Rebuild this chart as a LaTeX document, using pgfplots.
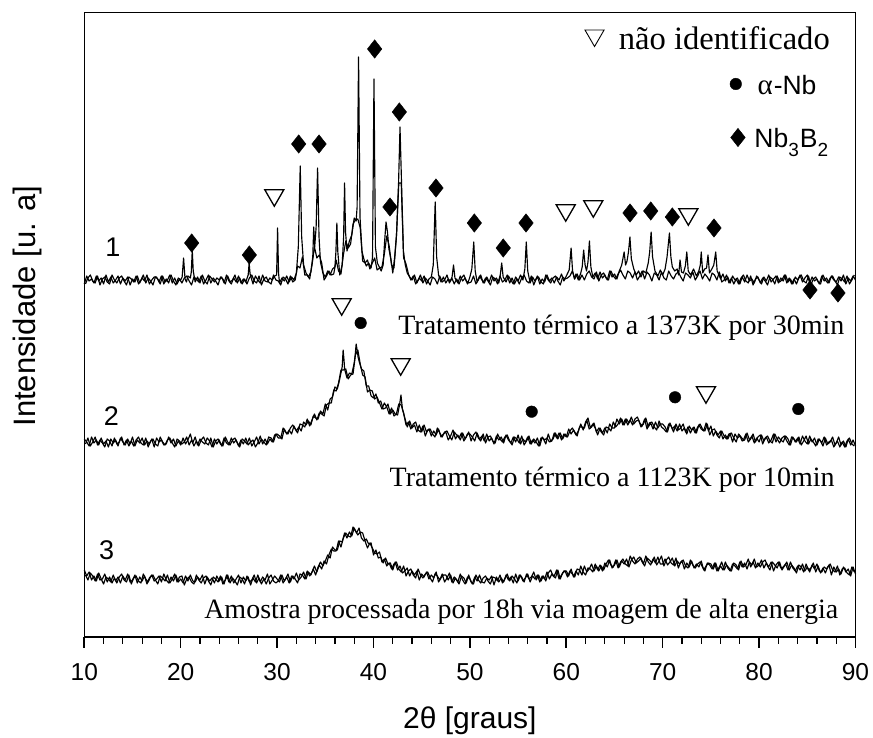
\documentclass[border=0pt]{standalone}
\usepackage{fontspec}
\setmainfont{Liberation Serif}
\setsansfont{Liberation Sans}
\usepackage{graphicx}
\usepackage{pgfplots}
\pgfplotsset{compat=1.18}

\pgfplotstableread{
x y
10 353
10.25 361
10.5 356
10.75 358
11 354
11.25 361
11.5 356
11.75 359
12 353
12.25 362
12.5 355
12.75 360
13 354
13.25 357
13.5 361
13.75 353
14 359
14.25 356
14.5 360
14.75 352
15 358
15.25 355
15.5 361
15.75 354
16 359
16.25 356
16.5 362
16.75 353
17 357
17.25 360
17.5 360
17.75 355
18 361
18.25 353
18.5 358
18.75 354
19 362
19.25 356
19.5 352
19.75 359
20 357
20.15 360
20.3 379
20.45 358
20.6 355
20.75 361
21.0 359
21.1 365
21.2 387
21.3 366
21.5 355
21.75 360
22 354
22.25 362
22.5 356
22.75 353
23 361
23.25 358
23.5 355
23.75 359
24 357
24.25 360
24.5 354
24.75 362
25 356
25.25 353
25.5 359
25.75 355
26 361
26.25 354
26.5 358
26.75 355
27.0 362
27.1 374
27.2 363
27.5 353
27.75 361
28 357
28.25 354
28.5 362
28.75 356
29 355
29.25 359
29.5 357
29.75 361
29.95 362
30.05 409
30.15 364
30.25 354
30.5 359
30.75 356
31 361
31.25 355
31.5 360
31.75 357
32.0 364
32.2 390
32.4 471
32.55 400
32.75 372
33.0 364
33.25 360
33.5 365
33.7 380
33.8 410
33.9 390
34.05 410
34.2 469
34.35 400
34.5 375
34.75 364
35.0 360
35.25 366
35.5 362
35.75 368
36.0 370
36.1 385
36.2 414
36.3 385
36.5 362
36.75 372
36.9 400
37.0 454
37.1 405
37.25 386
37.5 396
37.75 402
38.0 419
38.2 416
38.3 430
38.45 580
38.6 420
38.8 386
39.0 378
39.25 371
39.5 374
39.75 369
39.9 380
40.05 558
40.2 390
40.4 374
40.6 370
40.8 366
41.0 372
41.15 395
41.3 415
41.45 405
41.6 388
41.8 378
42.0 364
42.2 380
42.4 404
42.6 454
42.75 510
42.9 457
43.1 386
43.3 372
43.5 364
43.75 360
44 357
44.25 362
44.5 354
44.75 359
45 356
45.25 361
45.5 353
45.75 358
46.0 360
46.2 372
46.4 435
46.55 380
46.75 362
47 355
47.25 360
47.5 354
47.75 358
48.0 356
48.15 360
48.3 372
48.45 359
48.75 354
49 361
49.25 356
49.5 359
49.75 353
50.0 360
50.2 368
50.4 395
50.55 366
50.75 355
51 361
51.25 357
51.5 354
51.75 360
52 355
52.25 362
52.5 356
52.75 359
53.0 354
53.15 362
53.3 374
53.45 360
53.75 355
54 361
54.25 357
54.5 353
54.75 360
55 356
55.25 362
55.5 357
55.7 368
55.85 395
56.0 366
56.25 354
56.5 360
56.75 356
57 361
57.25 353
57.5 358
57.75 355
58 362
58.25 356
58.5 359
58.75 354
59 360
59.25 357
59.5 363
59.75 356
60.0 361
60.3 367
60.5 389
60.65 366
60.85 358
61.0 363
61.25 357
61.5 364
61.65 370
61.8 387
61.95 372
62.1 366
62.25 375
62.4 396
62.55 370
62.75 360
63 364
63.25 358
63.5 365
63.75 359
64 362
64.25 357
64.5 366
64.75 360
65 363
65.25 358
65.5 366
65.75 372
66.0 385
66.15 372
66.3 376
66.45 385
66.6 400
66.75 378
67.0 368
67.25 362
67.5 366
67.75 360
68.0 366
68.25 364
68.5 374
68.65 385
68.8 405
68.95 380
69.2 366
69.5 361
69.75 367
70.0 362
70.25 368
70.45 380
70.7 404
70.85 380
71.0 370
71.25 366
71.5 368
71.65 362
71.8 377
71.95 365
72.15 364
72.35 371
72.5 385
72.65 366
72.9 362
73.2 368
73.5 361
73.75 366
73.9 372
74.0 385
74.15 364
74.35 368
74.55 369
74.7 382
74.85 364
75.1 368
75.3 372
75.5 385
75.65 366
75.85 362
76 358
76.25 363
76.5 356
76.75 360
77 354
77.25 361
77.5 357
77.75 359
78 353
78.25 360
78.5 355
78.75 362
79 356
79.25 358
79.5 354
79.75 361
80 357
80.25 353
80.5 360
80.75 356
81 362
81.25 355
81.5 358
81.75 361
82 354
82.25 359
82.5 356
82.75 362
83 355
83.25 358
83.5 353
83.75 360
84 357
84.25 362
84.5 355
84.75 359
85 362
85.25 354
85.5 360
85.75 356
86 358
86.25 353
86.5 361
86.75 356
87 359
87.25 354
87.5 361
87.75 357
88 355
88.25 360
88.5 356
88.75 362
89 353
89.25 359
89.5 356
89.75 361
90 357
}\curveA

\pgfplotstableread{
x y
10.125 353
10.375 359
10.625 362
10.875 356
11.125 354
11.375 361
11.625 352
11.875 358
12.125 360
12.375 355
12.625 353
12.875 362
13.125 357
13.375 354
13.625 359
13.875 361
14.125 356
14.375 352
14.625 360
14.875 358
15.125 355
15.375 361
15.625 353
15.875 357
16.125 362
16.375 354
16.625 359
16.875 356
17.125 352
17.375 360
17.625 358
17.875 353
18.125 361
18.375 355
18.625 357
18.875 362
19.125 354
19.375 359
19.625 353
19.875 358
20.125 354
20.375 359
20.625 361
20.875 356
21.125 352
21.375 360
21.625 358
21.875 355
22.125 361
22.375 353
22.625 357
22.875 362
23.125 354
23.375 359
23.625 356
23.875 352
24.125 360
24.375 358
24.625 353
24.875 361
25.125 355
25.375 357
25.625 362
25.875 354
26.125 359
26.375 353
26.625 358
26.875 353
27.125 359
27.375 362
27.625 356
27.875 354
28.125 361
28.375 352
28.625 358
28.875 360
29.125 355
29.375 353
29.625 362
29.875 357
30.125 356
30.375 352
30.625 360
30.875 358
31.125 353
31.375 361
31.625 355
31.875 357
32.125 371
32.375 369
32.625 380
32.875 362
33.125 362
33.375 358
33.625 372
33.875 390
34.125 379
34.375 382
34.625 374
34.875 357
35.125 361
35.375 366
35.625 362
35.875 363
36.125 377
36.375 366
36.625 363
36.875 382
37.125 396
37.375 389
37.625 393
37.875 413
38.125 417
38.375 418
38.625 409
38.875 376
39.125 374
39.375 377
39.625 368
39.875 374
40.125 379
40.375 367
40.625 369
40.875 370
41.125 383
41.375 401
41.625 391
41.875 372
42.125 369
42.375 400
42.625 454
42.875 454
43.125 379
43.375 373
43.625 363
43.875 357
44.125 361
44.375 353
44.625 357
44.875 362
45.125 354
45.375 359
45.625 356
45.875 352
46.125 360
46.375 358
46.625 353
46.875 361
47.125 355
47.375 357
47.625 362
47.875 354
48.125 359
48.375 353
48.625 358
48.875 353
49.125 359
49.375 362
49.625 356
49.875 354
50.125 355
50.375 361
50.625 353
50.875 357
51.125 362
51.375 354
51.625 359
51.875 356
52.125 352
52.375 360
52.625 358
52.875 353
53.125 361
53.375 355
53.625 357
53.875 362
54.125 354
54.375 359
54.625 353
54.875 358
55.125 353
55.375 359
55.625 362
55.875 356
56.125 354
56.375 361
56.625 352
56.875 358
57.125 360
57.375 355
57.625 353
57.875 362
58.125 357
58.375 354
58.625 359
58.875 361
59.125 356
59.375 352
59.625 360
59.875 358
60.125 359
60.375 361
60.625 366
60.875 358
61.125 363
61.375 357
61.625 362
61.875 357
62.125 363
62.375 366
62.625 360
62.875 358
63.125 365
63.375 356
63.625 362
63.875 364
64.125 359
64.375 357
64.625 366
64.875 361
65.125 358
65.375 363
65.625 367
65.875 362
66.125 358
66.375 366
66.625 364
66.875 359
67.125 365
67.375 357
67.625 361
67.875 366
68.125 358
68.375 365
68.625 362
68.875 356
69.125 364
69.375 362
69.625 357
69.875 365
70.125 359
70.375 357
70.625 366
70.875 361
71.125 358
71.375 363
71.625 365
71.875 360
72.125 356
72.375 364
72.625 362
72.875 359
73.125 365
73.375 357
73.625 361
73.875 366
74.125 358
74.375 363
74.625 360
74.875 356
75.125 364
75.375 362
75.625 357
75.875 365
76.125 355
76.375 357
76.625 362
76.875 354
77.125 359
77.375 353
77.625 358
77.875 353
78.125 359
78.375 362
78.625 356
78.875 354
79.125 361
79.375 352
79.625 358
79.875 360
80.125 354
80.375 359
80.625 356
80.875 352
81.125 360
81.375 358
81.625 353
81.875 361
82.125 355
82.375 357
82.625 362
82.875 354
83.125 359
83.375 353
83.625 358
83.875 353
84.125 359
84.375 362
84.625 356
84.875 354
85.125 361
85.375 352
85.625 358
85.875 360
86.125 355
86.375 353
86.625 362
86.875 357
87.125 354
87.375 359
87.625 361
87.875 356
88.125 352
88.375 360
88.625 358
88.875 355
89.125 361
89.375 353
89.625 357
89.875 362
}\curveAm

\pgfplotstableread{
x y
10 198
10.25 195
10.5 191
10.75 200
11 194
11.25 197
11.5 192
11.75 199
12 193
12.25 196
12.5 190
12.75 198
13 194
13.25 197
13.5 191
13.75 199
14 195
14.25 192
14.5 198
14.75 193
15 200
15.25 191
15.5 197
15.75 194
16 199
16.25 192
16.5 196
16.75 193
17 198
17.25 190
17.5 199
17.75 195
18 197
18.25 192
18.5 193
18.75 200
19 194
19.25 198
19.5 191
19.75 196
20 192
20.25 199
20.5 193
20.75 197
21 203
21.25 194
21.5 200
21.75 192
22 198
22.25 195
22.5 193
22.75 199
23 196
23.25 190
23.5 198
23.75 193
24 197
24.25 191
24.5 199
24.75 194
25 192
25.25 199
25.5 194
25.75 197
26 191
26.25 197
26.5 193
26.75 199
27 192
27.25 195
27.5 197
27.75 190
28 194
28.25 201
28.5 193
28.75 198
29 193
29.25 198
29.5 195
29.75 202
30 203
30.25 201
30.5 198
30.75 208
31 203
31.25 207
31.5 203
31.75 211
32 206
32.25 210
32.5 206
32.75 215
33 212
33.25 216
33.5 212
33.75 221
34 219
34.25 218
34.5 226
34.75 223
35 233
35.25 227
35.5 238
35.75 240
36 250
36.25 248
36.5 258
36.75 270
36.85 287
36.95 276
37.0 268
37.25 259
37.5 264
37.75 263
38 274
38.1 282
38.2 293
38.3 287
38.4 280
38.5 276
38.75 268
39 266
39.25 251
39.5 251
39.75 241
40 239
40.25 243
40.5 234
40.75 236
41 228
41.25 229
41.5 233
41.75 223
42 227
42.25 223
42.5 222
42.7 232
42.85 242
43 228
43.25 219
43.5 210
43.75 216
44 209
44.25 212
44.5 205
44.75 212
45 205
45.25 212
45.5 205
45.75 208
46 201
46.25 206
46.5 202
46.75 208
47 200
47.25 203
47.5 205
47.75 197
48 201
48.25 207
48.5 198
48.75 202
49 197
49.25 204
49.5 198
49.75 203
50 203
50.25 200
50.5 196
50.75 204
51 198
51.25 201
51.5 196
51.75 203
52 196
52.25 199
52.5 193
52.75 201
53 197
53.25 200
53.5 194
53.75 202
54 197
54.25 194
54.5 200
54.75 195
55 202
55.25 193
55.5 198
55.75 195
56 200
56.25 193
56.5 197
56.75 194
57 199
57.25 191
57.5 200
57.75 197
58 199
58.25 195
58.5 196
58.75 204
59 199
59.25 204
59.5 197
59.75 203
60 200
60.25 208
60.5 203
60.75 207
61 202
61.25 206
61.5 213
61.75 207
62 215
62.25 219
62.5 209
62.75 213
63 209
63.25 202
63.5 209
63.75 204
64 209
64.25 204
64.5 213
64.75 209
65 209
65.25 218
65.5 213
65.75 218
66 212
66.25 218
66.5 214
66.75 220
67 213
67.25 216
67.5 217
67.75 210
68 213
68.25 219
68.5 210
68.75 214
69 208
69.25 215
69.5 209
69.75 213
70 213
70.25 210
70.5 205
70.75 214
71 208
71.25 211
71.5 206
71.75 213
72 206
72.25 209
72.5 203
72.75 211
73 207
73.25 210
73.5 204
73.75 212
74 208
74.25 206
74.5 214
74.75 206
75 211
75.25 201
75.5 206
75.75 202
76 206
76.25 198
76.5 202
76.75 198
77 203
77.25 195
77.5 203
77.75 199
78 201
78.25 196
78.5 197
78.75 204
79 197
79.25 201
79.5 194
79.75 199
80 195
80.25 202
80.5 196
80.75 200
81 194
81.25 197
81.5 203
81.75 195
82 200
82.25 197
82.5 195
82.75 201
83 198
83.25 192
83.5 200
83.75 195
84 199
84.25 193
84.5 201
84.75 196
85 193
85.25 201
85.5 195
85.75 199
86 192
86.25 198
86.5 194
86.75 200
87 192
87.25 195
87.5 197
87.75 190
88 194
88.25 200
88.5 192
88.75 196
89 190
89.25 198
89.5 192
89.75 197
90 191
}\curveB

\pgfplotstableread{
x y
10.125 193
10.375 199
10.625 191
10.875 195
11.125 200
11.375 192
11.625 197
11.875 194
12.125 190
12.375 198
12.625 196
12.875 191
13.125 199
13.375 193
13.625 195
13.875 200
14.125 192
14.375 197
14.625 191
14.875 196
15.125 191
15.375 197
15.625 200
15.875 194
16.125 192
16.375 199
16.625 190
16.875 196
17.125 198
17.375 193
17.625 191
17.875 200
18.125 195
18.375 192
18.625 197
18.875 199
19.125 194
19.375 190
19.625 198
19.875 196
20.125 193
20.375 195
20.625 200
20.875 192
21.125 197
21.375 191
21.625 196
21.875 191
22.125 197
22.375 200
22.625 194
22.875 192
23.125 199
23.375 190
23.625 196
23.875 198
24.125 193
24.375 191
24.625 200
24.875 195
25.125 192
25.375 197
25.625 199
25.875 194
26.125 190
26.375 198
26.625 196
26.875 193
27.125 199
27.375 191
27.625 195
27.875 200
28.125 193
28.375 198
28.625 195
28.875 192
29.125 200
29.375 199
29.625 195
29.875 203
30.125 199
30.375 199
30.625 209
30.875 205
31.125 203
31.375 209
31.625 212
31.875 208
32.125 204
32.375 213
32.625 212
32.875 210
33.125 218
33.375 211
33.625 217
33.875 223
34.125 217
34.375 224
34.625 223
34.875 221
35.125 232
35.375 234
35.625 234
35.875 247
36.125 246
36.375 254
36.625 267
36.875 267
37.125 268
37.375 258
37.625 262
37.875 263
38.125 282
38.375 287
38.625 273
38.875 262
39.125 260
39.375 245
39.625 247
39.875 246
40.125 238
40.375 240
40.625 234
40.875 228
41.125 234
41.375 230
41.625 223
41.875 229
42.125 221
42.375 223
42.625 233
42.875 232
43.125 224
43.375 212
43.625 215
43.875 208
44.125 213
44.375 215
44.625 207
44.875 205
45.125 211
45.375 201
45.625 207
45.875 208
46.125 203
46.375 200
46.625 209
46.875 204
47.125 200
47.375 205
47.625 206
47.875 201
48.125 197
48.375 205
48.625 202
48.875 199
49.125 204
49.375 196
49.625 200
49.875 205
50.125 196
50.375 202
50.625 205
50.875 199
51.125 196
51.375 203
51.625 194
51.875 200
52.125 201
52.375 196
52.625 194
52.875 203
53.125 198
53.375 195
53.625 200
53.875 202
54.125 196
54.375 192
54.625 200
54.875 198
55.125 194
55.375 201
55.625 192
55.875 196
56.125 201
56.375 193
56.625 198
56.875 195
57.125 191
57.375 199
57.625 198
57.875 193
58.125 203
58.375 196
58.625 198
58.875 204
59.125 198
59.375 204
59.625 198
59.875 203
60.125 200
60.375 206
60.625 209
60.875 205
61.125 201
61.375 210
61.625 210
61.875 209
62.125 217
62.375 208
62.625 210
62.875 214
63.125 205
63.375 209
63.625 205
63.875 202
64.125 210
64.375 209
64.625 206
64.875 215
65.125 210
65.375 213
65.625 219
65.875 212
66.125 218
66.375 212
66.625 217
66.875 212
67.125 218
67.375 220
67.625 214
67.875 211
68.125 218
68.375 208
68.625 214
68.875 215
69.125 210
69.375 207
69.625 216
69.875 210
70.125 208
70.375 205
70.625 213
70.875 211
71.125 205
71.375 213
71.625 207
71.875 209
72.125 213
72.375 205
72.625 210
72.875 204
73.125 209
73.375 204
73.625 210
73.875 213
74.125 208
74.375 206
74.625 213
74.875 202
75.125 207
75.375 208
75.625 202
75.875 199
76.125 206
76.375 201
76.625 198
76.875 203
77.125 204
77.375 199
77.625 195
77.875 203
78.125 200
78.375 197
78.625 203
78.875 195
79.125 198
79.375 203
79.625 195
79.875 200
80.125 202
80.375 193
80.625 199
80.875 201
81.125 196
81.375 194
81.625 203
81.875 198
82.125 194
82.375 199
82.625 201
82.875 196
83.125 192
83.375 200
83.625 198
83.875 195
84.125 200
84.375 192
84.625 196
84.875 201
85.125 193
85.375 198
85.625 195
85.875 191
86.125 198
86.375 196
86.625 191
86.875 199
87.125 193
87.375 195
87.625 200
87.875 192
88.125 196
88.375 190
88.625 195
88.875 190
89.125 196
89.375 199
89.625 193
89.875 191
}\curveBm

\pgfplotstableread{
x y
10 67
10.25 61
10.5 65
10.75 57
11 61
11.25 56
11.5 64
11.75 58
12 53
12.25 60
12.5 58
12.75 55
13 62
13.25 56
13.5 60
13.75 54
14 61
14.25 57
14.5 63
14.75 55
15 57
15.25 62
15.5 54
15.75 60
16 56
16.25 61
16.5 53
16.75 59
17 62
17.25 56
17.5 58
17.75 61
18 55
18.25 63
18.5 57
18.75 54
19 60
19.25 56
19.5 62
19.75 55
20 58
20.25 54
20.5 61
20.75 56
21 62
21.25 56
21.5 55
21.75 60
22 57
22.25 62
22.5 53
22.75 60
23 56
23.25 59
23.5 54
23.75 61
24 56
24.25 60
24.5 53
24.75 62
25 55
25.25 61
25.5 54
25.75 58
26 62
26.25 54
26.5 60
26.75 56
27 60
27.25 52
27.5 59
27.75 55
28 62
28.25 55
28.5 60
28.75 57
29 63
29.25 53
29.5 57
29.75 61
30 58
30.25 55
30.5 62
30.75 56
31 60
31.25 54
31.5 61
31.75 58
32 64
32.25 57
32.5 60
32.75 65
33 58
33.25 65
33.5 62
33.75 68
34 62
34.25 70
34.5 75
34.75 71
35 76
35.25 82
35.5 79
35.75 90
36 87
36.25 87
36.5 96
36.75 95
37 104
37.25 99
37.5 105
37.75 101
38 109
38.25 104
38.5 109
38.75 99
39 96
39.25 98
39.5 93
39.75 94
40 82
40.25 87
40.5 79
40.75 80
41 74
41.25 79
41.5 73
41.75 74
42 67
42.25 75
42.5 67
42.75 71
43 64
43.25 66
43.5 69
43.75 61
44 66
44.25 62
44.5 66
44.75 57
45 63
45.25 60
45.5 65
45.75 58
46 62
46.25 59
46.5 65
46.75 55
47 59
47.25 62
47.5 62
47.75 57
48 62
48.25 54
48.5 59
48.75 55
49 63
49.25 57
49.5 53
49.75 60
50 58
50.25 53
50.5 60
50.75 56
51 62
51.25 55
51.5 54
51.75 59
52 57
52.25 61
52.5 52
52.75 60
53 55
53.25 59
53.5 55
53.75 62
54 57
54.25 60
54.5 54
54.75 63
55 56
55.25 62
55.5 56
55.75 59
56 63
56.25 55
56.5 61
56.75 58
57 62
57.25 55
57.5 61
57.75 58
58 65
58.25 58
58.5 63
58.75 61
59 67
59.25 58
59.5 62
59.75 66
60 66
60.25 61
60.5 68
60.75 60
61 66
61.25 62
61.5 71
61.75 65
62 62
62.25 69
62.5 68
62.75 65
63 73
63.25 67
63.5 72
63.75 66
64 74
64.25 70
64.5 77
64.75 69
65 72
65.25 77
65.5 70
65.75 76
66 73
66.25 78
66.5 70
66.75 77
67 80
67.25 74
67.5 76
67.75 79
68 73
68.25 81
68.5 75
68.75 72
69 78
69.25 74
69.5 80
69.75 73
70 73
70.25 78
70.5 72
70.75 75
71 79
71.25 71
71.5 76
71.75 73
72 76
72.25 68
72.5 74
72.75 70
73 76
73.25 69
73.5 73
73.75 70
74 76
74.25 67
74.5 71
74.75 74
75 73
75.25 68
75.5 74
75.75 66
76 71
76.25 67
76.5 75
76.75 69
77 66
77.25 73
77.5 71
77.75 68
78 75
78.25 70
78.5 74
78.75 68
79 75
79.25 72
79.5 78
79.75 70
80 72
80.25 77
80.5 69
80.75 74
81 70
81.25 75
81.5 66
81.75 72
82 75
82.25 69
82.5 70
82.75 73
83 67
83.25 75
83.5 69
83.75 66
84 71
84.25 67
84.5 73
84.75 66
85 70
85.25 65
85.5 72
85.75 68
86 73
86.25 66
86.5 65
86.75 70
87 68
87.25 72
87.5 62
87.75 70
88 65
88.25 68
88.5 63
88.75 70
89 65
89.25 68
89.5 61
89.75 70
90 63
}\curveC

\pgfplotstableread{
x y
10.125 62
10.375 57
10.625 64
10.875 61
11.125 56
11.375 63
11.625 57
11.875 58
12.125 63
12.375 55
12.625 60
12.875 54
13.125 59
13.375 54
13.625 60
13.875 63
14.125 57
14.375 55
14.625 62
14.875 53
15.125 59
15.375 61
15.625 56
15.875 54
16.125 63
16.375 58
16.625 55
16.875 60
17.125 62
17.375 57
17.625 53
17.875 61
18.125 59
18.375 56
18.625 62
18.875 54
19.125 58
19.375 63
19.625 55
19.875 60
20.125 61
20.375 52
20.625 58
20.875 60
21.125 55
21.375 53
21.625 62
21.875 57
22.125 54
22.375 59
22.625 61
22.875 56
23.125 52
23.375 60
23.625 58
23.875 55
24.125 61
24.375 53
24.625 57
24.875 62
25.125 54
25.375 59
25.625 56
25.875 52
26.125 60
26.375 58
26.625 53
26.875 61
27.125 55
27.375 57
27.625 62
27.875 54
28.125 59
28.375 53
28.625 58
28.875 53
29.125 59
29.375 62
29.625 56
29.875 54
30.125 56
30.375 62
30.625 54
30.875 58
31.125 63
31.375 55
31.625 61
31.875 58
32.125 54
32.375 63
32.625 62
32.875 58
33.125 66
33.375 61
33.625 65
33.875 71
34.125 65
34.375 72
34.625 68
34.875 76
35.125 73
35.375 82
35.625 88
35.875 86
36.125 86
36.375 96
36.625 90
36.875 99
37.125 104
37.375 101
37.625 100
37.875 110
38.125 106
38.375 102
38.625 105
38.875 104
39.125 96
39.375 89
39.625 94
39.875 89
40.125 84
40.375 83
40.625 85
40.875 75
41.125 78
41.375 71
41.625 74
41.875 68
42.125 73
42.375 75
42.625 68
42.875 65
43.125 71
43.375 61
43.625 66
43.875 68
44.125 62
44.375 59
44.625 68
44.875 62
45.125 59
45.375 63
45.625 65
45.875 59
46.125 55
46.375 63
46.625 61
46.875 57
47.125 63
47.375 55
47.625 59
47.875 64
48.125 55
48.375 60
48.625 57
48.875 53
49.125 61
49.375 59
49.625 54
49.875 62
50.125 55
50.375 53
50.625 62
50.875 57
51.125 54
51.375 59
51.625 61
51.875 56
52.125 53
52.375 60
52.625 59
52.875 56
53.125 62
53.375 54
53.625 58
53.875 63
54.125 56
54.375 61
54.625 58
54.875 54
55.125 62
55.375 60
55.625 55
55.875 63
56.125 58
56.375 60
56.625 65
56.875 57
57.125 62
57.375 56
57.625 61
57.875 56
58.125 64
58.375 67
58.625 61
58.875 59
59.125 67
59.375 58
59.625 64
59.875 66
60.125 60
60.375 66
60.625 63
60.875 60
61.125 68
61.375 67
61.625 62
61.875 71
62.125 65
62.375 68
62.625 73
62.875 66
63.125 71
63.375 66
63.625 71
63.875 67
64.125 73
64.375 77
64.625 72
64.875 70
65.125 77
65.375 69
65.625 75
65.875 78
66.125 73
66.375 71
66.625 81
66.875 76
67.125 73
67.375 78
67.625 80
67.875 75
68.125 71
68.375 79
68.625 77
68.875 74
69.125 80
69.375 72
69.625 76
69.875 81
70.125 71
70.375 77
70.625 80
70.875 74
71.125 72
71.375 79
71.625 69
71.875 75
72.125 77
72.375 71
72.625 69
72.875 77
73.125 72
73.375 69
73.625 73
73.875 75
74.125 70
74.375 66
74.625 74
74.875 72
75.125 68
75.375 74
75.625 66
75.875 70
76.125 75
76.375 67
76.625 72
76.875 69
77.125 66
77.375 74
77.625 72
77.875 67
78.125 76
78.375 70
78.625 72
78.875 78
79.125 70
79.375 75
79.625 69
79.875 74
80.125 70
80.375 75
80.625 77
80.875 71
81.125 67
81.375 75
81.625 72
81.875 69
82.125 75
82.375 67
82.625 71
82.875 75
83.125 67
83.375 72
83.625 69
83.875 64
84.125 72
84.375 70
84.625 65
84.875 73
85.125 67
85.375 69
85.625 74
85.875 65
86.125 71
86.375 64
86.625 69
86.875 64
87.125 70
87.375 73
87.625 67
87.875 65
88.125 71
88.375 62
88.625 68
88.875 69
89.125 64
89.375 62
89.625 70
89.875 65
}\curveCm

\begin{document}
\begin{tikzpicture}[x=1pt,y=1pt]
\path[use as bounding box] (0,0) rectangle (873,738);
\begin{axis}[
  at={(84.3pt,101pt)}, anchor=south west,
  scale only axis, width=771.2pt, height=624.3pt,
  xmin=10, xmax=90, ymin=0, ymax=624.3,
  axis line style={line width=1.5pt},
  ytick=\empty,
  xtick={10,20,...,90},
  minor x tick num=4,
  xtick pos=left,
  tick align=outside,
  major tick length=11pt, minor tick length=7pt,
  every major tick/.append style={line width=1.6pt, black},
  every minor tick/.append style={line width=1.2pt, black},
  /pgf/number format/assume math mode=true,
  xticklabel style={font=\sffamily\fontsize{24.5}{25}\selectfont, yshift=-12pt},
  xlabel={2θ [graus]},
  xlabel style={font=\sffamily\fontsize{30}{32}\selectfont, at={(axis description cs:0.5,-0.1345)}, anchor=center},
  ylabel={Intensidade [u. a]},
  ylabel style={font=\sffamily\fontsize{31}{33}\selectfont, at={(axis description cs:-0.0743,0.530)}, anchor=center},
  clip=false,
]
\addplot[black, line width=1.15pt, line join=round, mark=none] table {\curveA};
\addplot[black, line width=1.15pt, line join=round, mark=none] table {\curveAm};
\addplot[black, line width=1.15pt, line join=round, mark=none] table {\curveB};
\addplot[black, line width=1.15pt, line join=round, mark=none] table {\curveBm};
\addplot[black, line width=1.15pt, line join=round, mark=none] table {\curveC};
\addplot[black, line width=1.15pt, line join=round, mark=none] table {\curveCm};

% Nb3B2 diamonds
\addplot[only marks, mark=diamond*, mark size=9.2pt, mark options={black, fill=black, xscale=1.05}] coordinates {
(21.14,394) (27.12,382) (32.24,493) (34.35,493) (40.12,588) (42.68,525) (41.71,430)
(46.48,449) (50.46,414) (53.46,389) (55.82,414) (66.61,424) (68.76,426) (71.0,420)
(75.32,409) (85.28,347) (88.18,344) (77.81,499.5)};
% not identified triangles
\addplot[only marks, mark=triangle, mark size=11pt, mark options={black, rotate=180, line width=1.3pt}] coordinates {
(29.71,441.75) (59.94,426.75) (62.8,430.75) (72.66,422.75)
(36.7,332.75) (42.82,272.75) (74.49,244.75)};
\addplot[only marks, mark=triangle, mark size=11pt, mark options={black, rotate=180, line width=0.9pt}] coordinates {(62.93,601.45)};
% alpha-Nb dots
\addplot[only marks, mark=*, mark size=5.8pt, mark options={black, fill=black}] coordinates {
(38.67,314) (56.41,225.3) (71.28,239.7) (84.07,228) (77.58,553)};

\node[anchor=base east, font=\fontsize{28}{30}\selectfont] at (axis cs:89.22,302) {Tratamento térmico a 1373K por 30min};
\node[anchor=base east, font=\fontsize{28}{30}\selectfont] at (axis cs:88.21,150.3) {Tratamento térmico a 1123K por 10min};
\node[anchor=base east, font=\fontsize{28}{30}\selectfont] at (axis cs:88.57,18.7) {Amostra processada por 18h via moagem de alta energia};

\node[anchor=base, font=\sffamily\fontsize{27}{28}\selectfont] at (axis cs:12.96,380.3) {1};
\node[anchor=base, font=\sffamily\fontsize{27}{28}\selectfont] at (axis cs:12.8,211.3) {2};
\node[anchor=base, font=\sffamily\fontsize{27}{28}\selectfont] at (axis cs:12.32,77) {3};

\node[anchor=base east, font=\fontsize{32.6}{34}\selectfont] at (axis cs:87.7,587.7) {não identificado};
\node[anchor=base east, font=\sffamily\fontsize{26.5}{28}\selectfont] at (axis cs:86.32,542) {{\rmfamily\fontsize{29}{30}\selectfont α}\kern1pt-Nb};
\node[anchor=base east, font=\sffamily\fontsize{26.5}{28}\selectfont] at (axis cs:87.53,489.7) {Nb\raisebox{-9.4pt}{\fontsize{19}{19}\selectfont 3}\kern1pt B\raisebox{-9.4pt}{\fontsize{19}{19}\selectfont 2}};
\end{axis}
\end{tikzpicture}
\end{document}
